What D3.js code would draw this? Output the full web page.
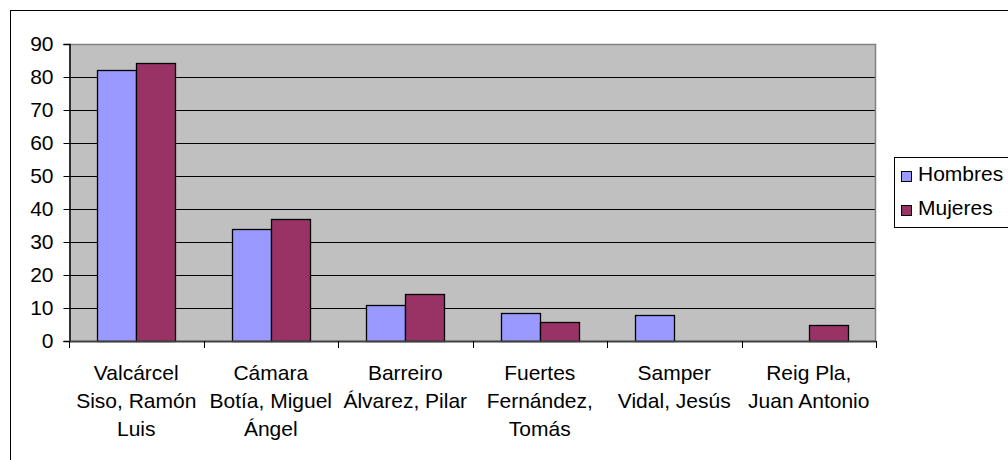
<!DOCTYPE html>
<html>
<head>
<meta charset="utf-8">
<script src="https://cdn.jsdelivr.net/npm/d3@7/dist/d3.min.js"></script>
<style>
  html, body { margin: 0; padding: 0; background: #fff; }
  svg { display: block; }
  text { font-family: "Liberation Sans", Arial, sans-serif; fill: #000; }
</style>
</head>
<body>
<svg id="chart" width="1008" height="460"></svg>
<script>
// ---- data ----
const categories = [
  ["Valcárcel", "Siso, Ramón", "Luis"],
  ["Cámara", "Botía, Miguel", "Ángel"],
  ["Barreiro", "Álvarez, Pilar"],
  ["Fuertes", "Fernández,", "Tomás"],
  ["Samper", "Vidal, Jesús"],
  ["Reig Pla,", "Juan Antonio"]
];
const seriesNames = ["Hombres", "Mujeres"];
const hombres = [82, 34, 11, 8.4, 8, 0];
const mujeres = [84.3, 37, 14.3, 5.8, 0, 4.8];
const yTicks = [0, 10, 20, 30, 40, 50, 60, 70, 80, 90];
const colors = ["#9999FF", "#993366"];

// ---- layout ----
const svg = d3.select("#chart");
const plot = { left: 69, right: 876, top: 44, bottom: 341 };
const FONT = 21;

// outer chart border (extends beyond the viewport)
svg.append("rect")
  .attr("x", 10.5).attr("y", 10.5)
  .attr("width", 1020).attr("height", 470)
  .attr("fill", "#fff").attr("stroke", "#000").attr("stroke-width", 1);

const keys = categories.map((c, i) => i);
const x0 = d3.scaleBand().domain(keys).range([plot.left, plot.right]).padding(0);
const bw = x0.bandwidth();
const x1 = d3.scaleBand().domain(seriesNames).range([bw * 0.21, bw * 0.79]).padding(0);
const y = d3.scaleLinear().domain([0, 90]).range([plot.bottom, plot.top]);

// plot background
svg.append("rect")
  .attr("x", plot.left).attr("y", plot.top)
  .attr("width", plot.right - plot.left).attr("height", plot.bottom - plot.top)
  .attr("fill", "#C0C0C0");

// gridlines
svg.append("g").selectAll("line")
  .data(yTicks.filter(t => t > 0 && t < 90))
  .join("line")
  .attr("x1", plot.left).attr("x2", plot.right)
  .attr("y1", d => Math.round(y(d)) + 0.5).attr("y2", d => Math.round(y(d)) + 0.5)
  .attr("stroke", "#000").attr("stroke-width", 1);

// plot border (top/right)
svg.append("path")
  .attr("d", `M${plot.left},${plot.top + 0.5}H${plot.right - 0.5}V${plot.bottom}`)
  .attr("fill", "none").attr("stroke", "#808080").attr("stroke-width", 1.5);

// bars
const data = [];
keys.forEach(i => {
  [hombres[i], mujeres[i]].forEach((v, s) => data.push({ i, s, v }));
});
svg.append("g").selectAll("rect")
  .data(data.filter(d => d.v > 0))
  .join("rect")
  .attr("x", d => Math.round(x0(d.i) + x1(seriesNames[d.s])) + 0.5)
  .attr("width", Math.round(x1.bandwidth()))
  .attr("y", d => Math.round(y(d.v)) + 0.5)
  .attr("height", d => Math.round(y(0)) - Math.round(y(d.v)))
  .attr("fill", d => colors[d.s])
  .attr("stroke", "#000").attr("stroke-width", 1.3);

// y axis
const yAxis = d3.axisLeft(y).tickValues(yTicks).tickSize(6).tickPadding(10).tickFormat(d3.format("d"));
const gy = svg.append("g").attr("transform", `translate(${plot.left + 0.5},0)`).call(yAxis);
gy.select(".domain").attr("stroke", "#000").attr("stroke-width", 1.5);
gy.selectAll(".tick line").attr("stroke", "#000");
gy.selectAll(".tick text")
  .style("font-family", '"Liberation Sans", Arial, sans-serif')
  .style("font-size", FONT + "px").attr("fill", "#000");

// x axis (ticks at band boundaries)
const boundaries = keys.map(k => x0(k)).concat([plot.right]);
svg.append("line")
  .attr("x1", plot.left).attr("x2", plot.right)
  .attr("y1", plot.bottom + 0.5).attr("y2", plot.bottom + 0.5)
  .attr("stroke", "#404040").attr("stroke-width", 2);
svg.append("g").selectAll("line")
  .data(boundaries)
  .join("line")
  .attr("x1", d => Math.round(d) + 0.5).attr("x2", d => Math.round(d) + 0.5)
  .attr("y1", plot.bottom).attr("y2", plot.bottom + 7)
  .attr("stroke", "#000").attr("stroke-width", 1);

// x labels
const xl = svg.append("g").selectAll("text")
  .data(keys)
  .join("text")
  .attr("text-anchor", "middle")
  .style("font-size", FONT + "px");
xl.each(function(i) {
  const t = d3.select(this);
  categories[i].forEach((line, j) => {
    t.append("tspan")
      .attr("x", x0(i) + bw / 2)
      .attr("y", 380 + j * 28)
      .text(line);
  });
});

// legend
const lg = svg.append("g");
lg.append("rect")
  .attr("x", 894.5).attr("y", 157.5)
  .attr("width", 130).attr("height", 70)
  .attr("fill", "#fff").attr("stroke", "#000").attr("stroke-width", 1);
seriesNames.forEach((name, s) => {
  const cy = 176 + s * 34;
  lg.append("rect")
    .attr("x", 901.5).attr("y", cy - 4.5)
    .attr("width", 10).attr("height", 10)
    .attr("fill", colors[s]).attr("stroke", "#000").attr("stroke-width", 1);
  lg.append("text")
    .attr("x", 918).attr("y", cy + 5)
    .style("font-size", FONT + "px")
    .text(name);
});
</script>
</body>
</html>
